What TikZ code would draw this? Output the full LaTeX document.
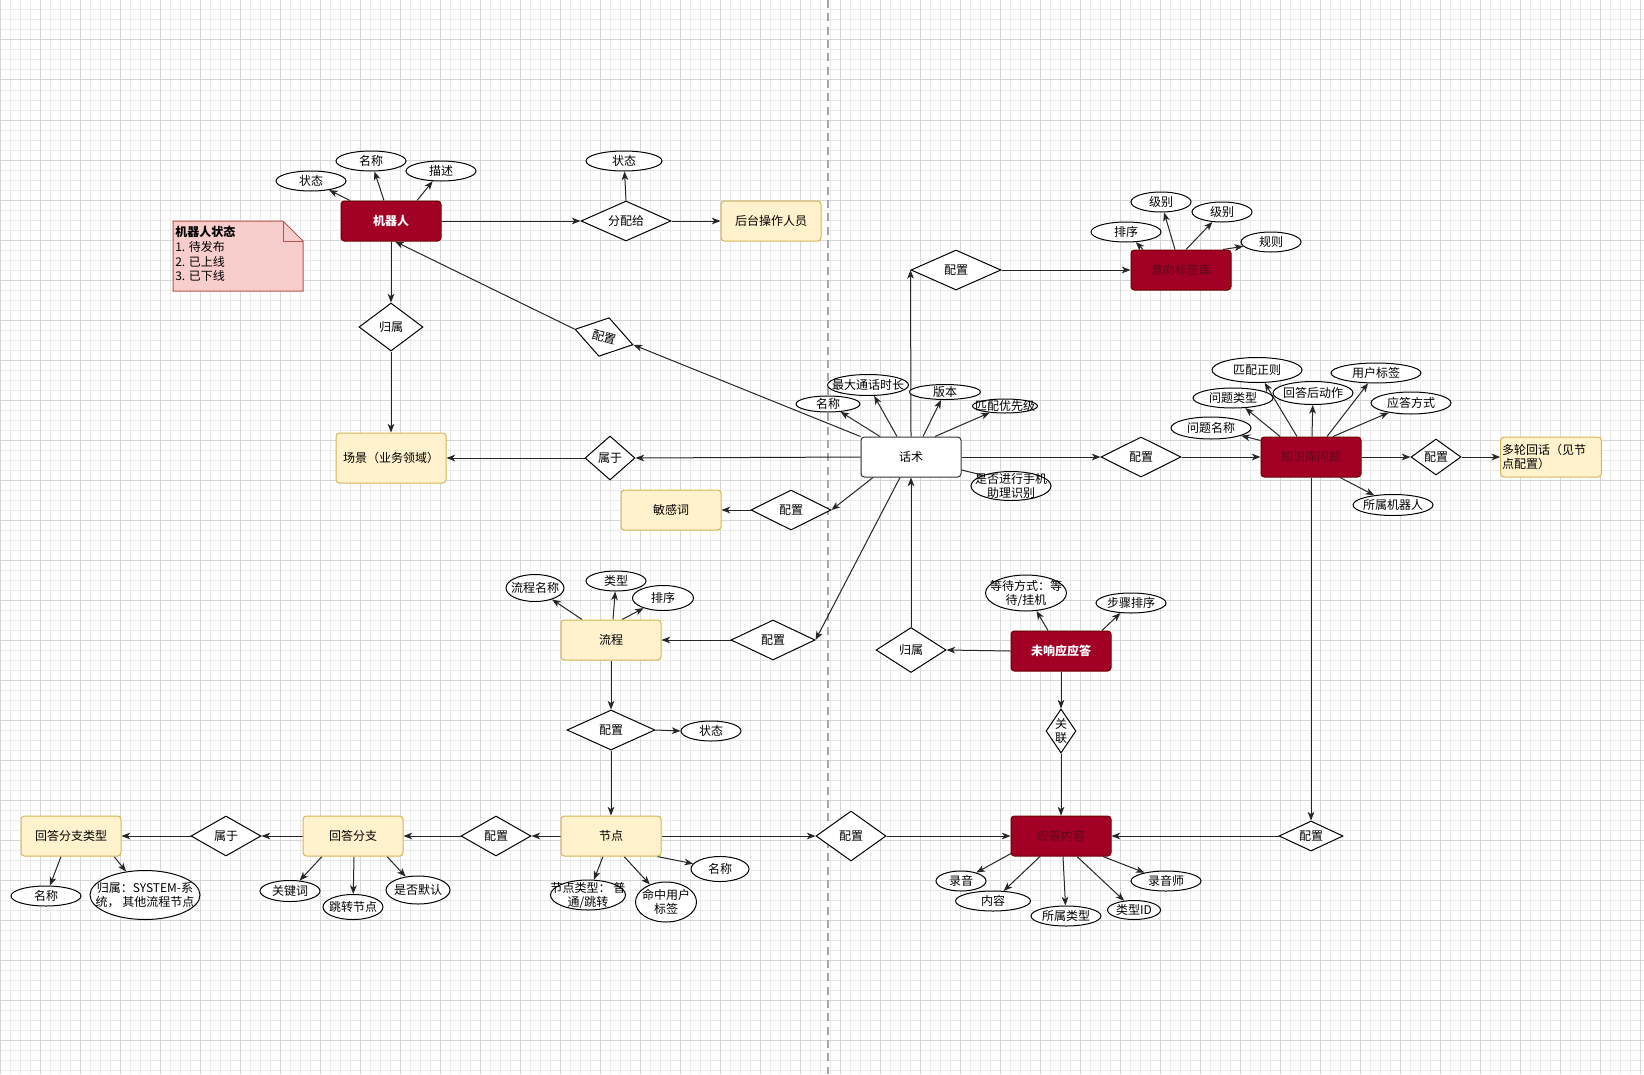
\documentclass[tikz,border=0pt]{standalone}
\usepackage{fontspec}
\newfontfamily\cjk{Noto Sans CJK SC}
\usetikzlibrary{shapes.geometric,arrows.meta,calc}
\definecolor{dkred}{HTML}{A20025}
\definecolor{dkredline}{HTML}{6F0000}
\definecolor{dkredtext}{HTML}{5C0A1A}
\definecolor{yelfill}{HTML}{FFF2CC}
\definecolor{yelline}{HTML}{D6B656}
\definecolor{notefill}{HTML}{F8CECC}
\definecolor{noteline}{HTML}{B85450}
\definecolor{gridlight}{HTML}{EAEAEA}
\definecolor{griddark}{HTML}{D6D6D6}
\newcommand\fitin[1]{\smash{\makebox[0pt]{\raisebox{-0.38em}{\begin{tabular}{@{}c@{}}#1\end{tabular}}}}}
\pgfdeclarelayer{gridlayer}
\pgfdeclarelayer{edges}
\pgfsetlayers{gridlayer,edges,main}

\begin{document}
\begin{tikzpicture}[x=0.75pt,y=-0.75pt,
  every node/.style={font=\cjk\fontsize{9}{11}\selectfont},
  wh/.style 2 args={minimum width=#1*0.75pt,minimum height=#2*0.75pt},
  ent/.style={rectangle,rounded corners=2.5pt,draw=black!80,line width=0.75pt,inner sep=1pt,wh={100}{40}},
  redent/.style={ent,fill=dkred,draw=dkredline,text=white,font=\cjk\bfseries\fontsize{9}{11}\selectfont},
  darkent/.style={ent,fill=dkred,draw=dkredline,text=dkredtext},
  yelent/.style={ent,fill=yelfill,draw=yelline},
  rel/.style={diamond,draw,fill=white,line width=0.75pt,inner sep=0pt},
  attr/.style={ellipse,draw,fill=white,line width=0.75pt,inner sep=0pt},
  arr/.style={draw=black!85,line width=0.75pt,-{Stealth[length=6.5pt,width=5pt,inset=1.8pt]}}]
\useasboundingbox (0,0) rectangle (1644,1074);

\begin{pgfonlayer}{gridlayer}
\fill[white] (0,0) rectangle (1644,1074);
\foreach \x in {0,10,...,1640} {
\draw[gridlight,line width=0.75pt] (\x,0)--(\x,1074);
}
\foreach \y in {0,10,...,1070} {
\draw[gridlight,line width=0.75pt] (0,\y)--(1644,\y);
}
\foreach \x in {0,40,...,1640} {
\draw[griddark,line width=0.75pt] (\x,0)--(\x,1074);
}
\foreach \y in {0,40,...,1040} {
\draw[griddark,line width=0.75pt] (0,\y)--(1644,\y);
}
\draw[black!35,line width=1.1pt,dash pattern=on 6pt off 4pt] (828,0)--(828,1074);
\end{pgfonlayer}

% note
\filldraw[fill=notefill,draw=noteline,line width=0.75pt] (173,221) -- (283,221) -- (303,241) -- (303,291) -- (173,291) -- cycle;
\draw[noteline,line width=0.75pt] (283,221) -- (283,241) -- (303,241);
\node[anchor=north west,align=left,inner sep=0pt] (memo) at (175,226) {\textbf{机器人状态}\\1. 待发布\\2. 已上线\\3. 已下线};

% entities
\node[redent] (robot) at (391,221) {机器人};
\node[yelent,wh={110}{50}] (scene) at (391,458) {场景（业务领域）};
\node[yelent] (staff) at (771,221) {后台操作人员};
\node[darkent] (intent) at (1181,270) {意向标签库};
\node[ent,fill=white] (script) at (911,457) {话术};
\node[yelent] (sensitive) at (671,510) {敏感词};
\node[yelent] (flow) at (611,640) {流程};
\node[yelent] (flownode) at (611,836) {节点};
\node[yelent] (branch) at (353,836) {回答分支};
\node[yelent] (brtype) at (71,836) {回答分支类型};
\node[darkent] (reply) at (1061,836) {应答内容};
\node[redent] (noresp) at (1061,651) {未响应应答};
\node[darkent] (kbq) at (1311,457) {知识库问题};
\node[yelent,align=left,text width=73.5pt] (multi) at (1551,457) {多轮回话（见节\\点配置）};

% relations
\node[rel,wh={90}{40}] (assign) at (626,221) {\fitin{分配给}};
\node[rel,wh={64}{48}] (belongA) at (391,327) {\fitin{归属}};
\node[rel,wh={60}{40},rotate=-15] (cfgRobot) at (604,337) {\fitin{配置}};
\node[rel,wh={50}{44}] (belongB) at (610,458) {\fitin{属于}};
\node[rel,wh={80}{40}] (cfgSens) at (791,510) {\fitin{配置}};
\node[rel,wh={90}{40}] (cfgIntent) at (956,270) {\fitin{配置}};
\node[rel,wh={80}{40}] (cfgKb) at (1141,457) {\fitin{配置}};
\node[rel,wh={50}{36}] (cfgMulti) at (1436,457) {\fitin{配置}};
\node[rel,wh={84}{40}] (cfgFlow) at (773,640) {\fitin{配置}};
\node[rel,wh={88}{40}] (cfgNode) at (611,730) {\fitin{配置}};
\node[rel,wh={70}{40}] (cfgBranch) at (496,836) {\fitin{配置}};
\node[rel,wh={70}{40}] (belongC) at (226,836) {\fitin{属于}};
\node[rel,wh={70}{50}] (cfgReply) at (851,836) {\fitin{配置}};
\node[rel,wh={30}{44}] (link) at (1061,731) {\fitin{关\\联}};
\node[rel,wh={70}{45}] (belongD) at (911,650) {\fitin{归属}};
\node[rel,wh={64}{30}] (cfgKbReply) at (1311,836) {\fitin{配置}};

% attributes
\node[attr,wh={70}{20}] (rState) at (311,181) {\fitin{状态}};
\node[attr,wh={70}{20}] (rName) at (371,161) {\fitin{名称}};
\node[attr,wh={70}{20}] (rDesc) at (441,171) {\fitin{描述}};
\node[attr,wh={76}{20}] (aState) at (624,161) {\fitin{状态}};

\node[attr,wh={70}{20}] (iSort) at (1126,232) {\fitin{排序}};
\node[attr,wh={60}{20}] (iLevelA) at (1161,202) {\fitin{级别}};
\node[attr,wh={60}{20}] (iLevelB) at (1222,212) {\fitin{级别}};
\node[attr,wh={60}{20}] (iRule) at (1271,242) {\fitin{规则}};

\node[attr,wh={64}{16}] (sName) at (828,404) {\fitin{名称}};
\node[attr,wh={81}{21}] (sMaxDur) at (868,385) {\fitin{最大通话时长}};
\node[attr,wh={71}{15}] (sVer) at (945,392) {\fitin{版本}};
\node[attr,wh={65}{14}] (sPrio) at (1005,406) {\fitin{匹配优先级}};
\node[attr,wh={80}{29}] (sPhone) at (1011,486) {\fitin{是否进行手机\\助理识别}};

\node[attr,wh={90}{25}] (kRegex) at (1257,370) {\fitin{匹配正则}};
\node[attr,wh={90}{20}] (kTag) at (1376,373) {\fitin{用户标签}};
\node[attr,wh={80}{20}] (kType) at (1233,398) {\fitin{问题类型}};
\node[attr,wh={80}{23}] (kAfter) at (1313,393) {\fitin{回答后动作}};
\node[attr,wh={80}{22}] (kMode) at (1411,403) {\fitin{应答方式}};
\node[attr,wh={80}{22}] (kName) at (1211,428) {\fitin{问题名称}};
\node[attr,wh={80}{21}] (kRobot) at (1393,505) {\fitin{所属机器人}};

\node[attr,wh={58}{27}] (fName) at (535,588) {\fitin{流程名称}};
\node[attr,wh={60}{20}] (fType) at (616,581) {\fitin{类型}};
\node[attr,wh={61}{25}] (fSort) at (663,598) {\fitin{排序}};
\node[attr,wh={60}{20}] (cState) at (711,731) {\fitin{状态}};

\node[attr,wh={75}{30}] (nType) at (588,895) {\fitin{节点类型： 普\\通/跳转}};
\node[attr,wh={61}{40}] (nHit) at (666,902) {\fitin{命中用户\\标签}};
\node[attr,wh={58}{25}] (nName) at (720,869) {\fitin{名称}};

\node[attr,wh={60}{21}] (bKey) at (290,891) {\fitin{关键词}};
\node[attr,wh={60}{25}] (bJump) at (353,907) {\fitin{跳转节点}};
\node[attr,wh={64}{28}] (bDef) at (418,890) {\fitin{是否默认}};
\node[attr,wh={70}{20}] (tName) at (46,896) {\fitin{名称}};
\node[attr,wh={110}{49}] (tOwner) at (145,895) {\fitin{归属：SYSTEM-系\\统， 其他流程节点}};

\node[attr,wh={81}{36}] (wWait) at (1026,593) {\fitin{等待方式：等\\待/挂机}};
\node[attr,wh={70}{20}] (wSort) at (1131,603) {\fitin{步骤排序}};

\node[attr,wh={50}{20}] (pRec) at (961,881) {\fitin{录音}};
\node[attr,wh={75}{20}] (pCont) at (993,901) {\fitin{内容}};
\node[attr,wh={70}{20}] (pType) at (1066,916) {\fitin{所属类型}};
\node[attr,wh={53}{19}] (pTid) at (1134,910) {\fitin{类型ID}};
\node[attr,wh={70}{20}] (pVoice) at (1166,881) {\fitin{录音师}};

\begin{pgfonlayer}{edges}
% robot
\draw[arr] ($(robot.north)+(-41,0)$) -- (rState);
\draw[arr] ($(robot.north)+(-7,0)$) -- (rName);
\draw[arr] ($(robot.north)+(26,0)$) -- (rDesc);
\draw[arr] (robot.east) -- (assign.west);
\draw[arr] (assign.north) -- (aState);
\draw[arr] (assign.east) -- (staff.west);
\draw[arr] (robot.south) -- (belongA.north);
\draw[arr] (belongA.south) -- (scene.north);
% script
\draw[arr] (script.north west) -- (cfgRobot.east);
\draw[arr] (cfgRobot.west) -- ($(robot.south)+(4,0)$);
\draw[arr] ($(script.north)+(-31,0)$) -- (sName);
\draw[arr] ($(script.north)+(-14,0)$) -- (sMaxDur);
\draw[arr] ($(script.north)+(12,0)$) -- (sVer);
\draw[arr] ($(script.north)+(24,0)$) -- (sPrio);
\draw[arr] ($(script.east)+(0,13)$) -- (sPhone.-8);
\draw[arr] (script.west) -- (belongB.east);
\draw[arr] (belongB.west) -- (scene.east);
\draw[arr] ($(script.south)+(-38,0)$) -- (cfgSens.east);
\draw[arr] (cfgSens.west) -- (sensitive.east);
\draw[arr] ($(script.south)+(-11,0)$) -- (cfgFlow.east);
\draw[arr] (cfgFlow.west) -- (flow.east);
\draw[arr] (script.north) -- (cfgIntent.west);
\draw[arr] (cfgIntent.east) -- (intent.west);
\draw[arr] (script.east) -- (cfgKb.west);
\draw[arr] (cfgKb.east) -- (kbq.west);
% intent
\draw[arr] ($(intent.north)+(-38,0)$) -- (iSort);
\draw[arr] ($(intent.north)+(-6,0)$) -- (iLevelA);
\draw[arr] ($(intent.north)+(5,0)$) -- (iLevelB);
\draw[arr] ($(intent.north)+(42,0)$) -- (iRule);
% knowledge base
\draw[arr] ($(kbq.north west)+(0,4)$) -- (kName);
\draw[arr] ($(kbq.north)+(-31,0)$) -- (kType);
\draw[arr] ($(kbq.north)+(-14,0)$) -- (kRegex);
\draw[arr] ($(kbq.north)+(1,0)$) -- (kAfter);
\draw[arr] ($(kbq.north)+(16,0)$) -- (kTag);
\draw[arr] ($(kbq.north)+(22,0)$) -- (kMode);
\draw[arr] ($(kbq.south)+(29,0)$) -- (kRobot);
\draw[arr] (kbq.east) -- (cfgMulti.west);
\draw[arr] (cfgMulti.east) -- (multi.west);
\draw[arr] (kbq.south) -- (cfgKbReply.north);
\draw[arr] (cfgKbReply.west) -- (reply.east);
% flow
\draw[arr] ($(flow.north)+(-29,0)$) -- (fName);
\draw[arr] ($(flow.north)+(2,0)$) -- (fType);
\draw[arr] ($(flow.north)+(11,0)$) -- (fSort);
\draw[arr] (flow.south) -- (cfgNode.north);
\draw[arr] (cfgNode.east) -- (cState.west);
\draw[arr] (cfgNode.south) -- (flownode.north);
% node
\draw[arr] ($(flownode.south)+(-8,0)$) -- (nType);
\draw[arr] ($(flownode.south)+(13,0)$) -- (nHit);
\draw[arr] ($(flownode.south)+(46,0)$) -- (nName);
\draw[arr] (flownode.west) -- (cfgBranch.east);
\draw[arr] (cfgBranch.west) -- (branch.east);
\draw[arr] (branch.west) -- (belongC.east);
\draw[arr] (belongC.west) -- (brtype.east);
\draw[arr] (flownode.east) -- (cfgReply.west);
\draw[arr] (cfgReply.east) -- (reply.west);
% branch
\draw[arr] ($(branch.south)+(-31,0)$) -- (bKey);
\draw[arr] ($(branch.south)+(1,0)$) -- (bJump);
\draw[arr] ($(branch.south)+(34,0)$) -- (bDef);
\draw[arr] ($(brtype.south)+(-10,0)$) -- (tName);
\draw[arr] ($(brtype.south)+(43,0)$) -- (tOwner);
% reply
\draw[arr] ($(reply.south)+(-50,-3)$) -- (pRec);
\draw[arr] ($(reply.south)+(-21,0)$) -- (pCont);
\draw[arr] ($(reply.south)+(2,0)$) -- (pType);
\draw[arr] ($(reply.south)+(16,0)$) -- (pTid);
\draw[arr] ($(reply.south)+(42,0)$) -- (pVoice);
% no response
\draw[arr] ($(noresp.north)+(-13,0)$) -- (wWait);
\draw[arr] ($(noresp.north)+(41,0)$) -- (wSort);
\draw[arr] (noresp.west) -- (belongD.east);
\draw[arr] (belongD.north) -- (script.south);
\draw[arr] (noresp.south) -- (link.north);
\draw[arr] (link.south) -- (reply.north);
\end{pgfonlayer}

\end{tikzpicture}
\end{document}
